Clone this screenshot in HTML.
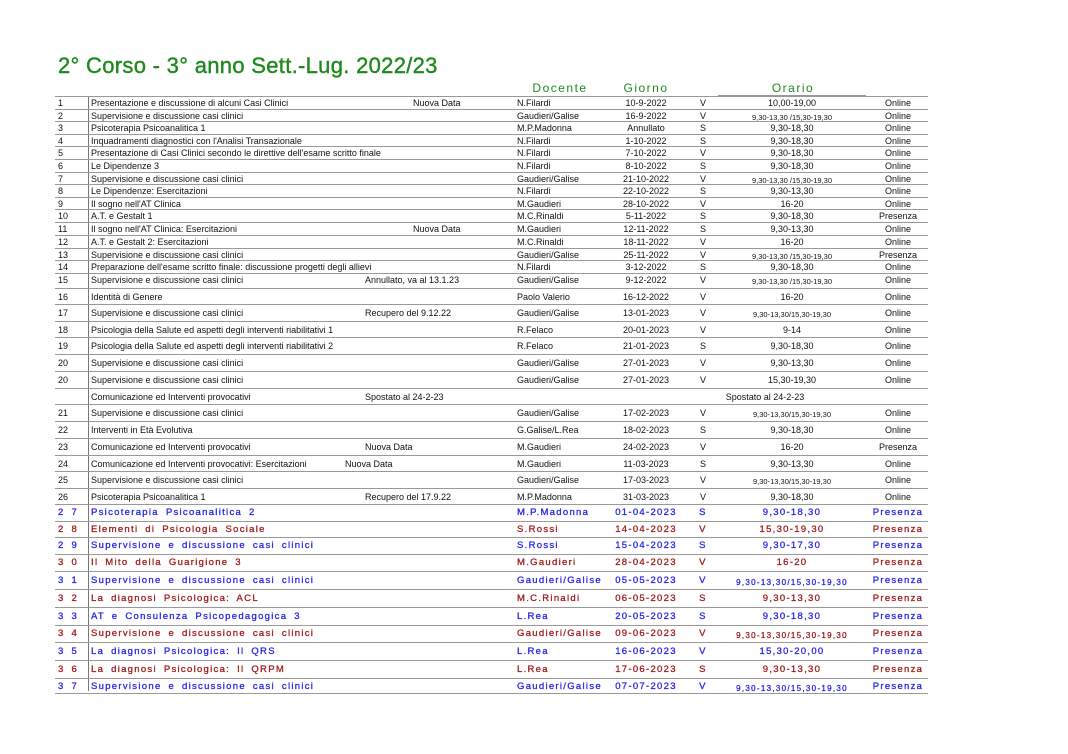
<!DOCTYPE html>
<html><head><meta charset="utf-8"><style>
body{margin:0;width:1068px;height:754px;background:#fff;position:relative;overflow:hidden;font-family:"Liberation Sans",sans-serif;}
.t{position:absolute;white-space:nowrap;font-size:9px;color:#111;line-height:12px;}
.c{transform:translateX(-50%);}
.h{position:absolute;color:#1e8a1e;font-size:12px;letter-spacing:1.5px;}
.ln{position:absolute;height:1px;background:#999;}
.b{letter-spacing:1.3px;word-spacing:3px;font-size:9.5px;-webkit-text-stroke:0.3px;}
</style></head><body>
<div class="h" style="left:58px;top:53px;font-size:22px;letter-spacing:0.3px;-webkit-text-stroke:0.4px;">2° Corso - 3° anno Sett.-Lug. 2022/23</div>
<div class="h c" style="left:560px;top:81px;">Docente</div>
<div class="h c" style="left:646px;top:81px;">Giorno</div>
<div class="h c" style="left:793px;top:81px;">Orario</div>
<div class="ln" style="left:718px;top:95px;width:148px;"></div>
<div class="ln" style="left:55px;top:96px;width:873px;"></div>
<div class="ln" style="left:88px;top:97px;width:1px;height:594px;background:#777;"></div>
<script>
const nums=["1","2","3","4","5","6","7","8","9","10","11","12","13","14","15","16","17","18","19","20","20","","21","22","23","24","25","26","2 7","2 8","2 9","3 0","3 1","3 2","3 3","3 4","3 5","3 6","3 7"];
const ys=[102,115,127,140,152,165,178,190,203,215,228,241,254,266,279,296,312,329,345,362,379,396,412,429,446,463,479,496,512,529,545,562,580,598,616,633,651,669,686];
const titles=["Presentazione e discussione di alcuni Casi Clinici","Supervisione e discussione casi clinici","Psicoterapia Psicoanalitica 1","Inquadramenti diagnostici con l'Analisi Transazionale","Presentazione di Casi Clinici secondo le direttive dell'esame scritto finale","Le Dipendenze 3","Supervisione e discussione casi clinici","Le Dipendenze: Esercitazioni","Il sogno nell'AT Clinica","A.T. e Gestalt 1","Il sogno nell'AT Clinica: Esercitazioni","A.T. e Gestalt 2: Esercitazioni","Supervisione e discussione casi clinici","Preparazione dell'esame scritto finale: discussione progetti degli allievi","Supervisione e discussione casi clinici","Identità di Genere","Supervisione e discussione casi clinici","Psicologia della Salute ed aspetti degli interventi riabilitativi 1","Psicologia della Salute ed aspetti degli interventi riabilitativi 2","Supervisione e discussione casi clinici","Supervisione e discussione casi clinici","Comunicazione ed Interventi provocativi","Supervisione e discussione casi clinici","Interventi in Età Evolutiva","Comunicazione ed Interventi provocativi","Comunicazione ed Interventi provocativi: Esercitazioni","Supervisione e discussione casi clinici","Psicoterapia Psicoanalitica 1","Psicoterapia  Psicoanalitica  2","Elementi  di  Psicologia  Sociale","Supervisione  e  discussione  casi  clinici","Il  Mito  della  Guarigione  3","Supervisione  e  discussione  casi  clinici","La  diagnosi  Psicologica:  ACL","AT  e  Consulenza  Psicopedagogica  3","Supervisione  e  discussione  casi  clinici","La  diagnosi  Psicologica:  Il  QRS","La  diagnosi  Psicologica:  Il  QRPM","Supervisione  e  discussione  casi  clinici"];
const notes=["Nuova Data","","","","","","","","","","Nuova Data","","","","Annullato, va al 13.1.23","","Recupero del 9.12.22","","","","","Spostato al 24-2-23","","","Nuova Data","Nuova Data","","Recupero del 17.9.22","","","","","","","","","","",""];
const noteX=[413,0,0,0,0,0,0,0,0,0,413,0,0,0,365,0,365,0,0,0,0,365,0,0,365,345,0,365,0,0,0,0,0,0,0,0,0,0,0];
const docenti=["N.Filardi","Gaudieri/Galise","M.P.Madonna","N.Filardi","N.Filardi","N.Filardi","Gaudieri/Galise","N.Filardi","M.Gaudieri","M.C.Rinaldi","M.Gaudieri","M.C.Rinaldi","Gaudieri/Galise","N.Filardi","Gaudieri/Galise","Paolo Valerio","Gaudieri/Galise","R.Felaco","R.Felaco","Gaudieri/Galise","Gaudieri/Galise","","Gaudieri/Galise","G.Galise/L.Rea","M.Gaudieri","M.Gaudieri","Gaudieri/Galise","M.P.Madonna","M.P.Madonna","S.Rossi","S.Rossi","M.Gaudieri","Gaudieri/Galise","M.C.Rinaldi","L.Rea","Gaudieri/Galise","L.Rea","L.Rea","Gaudieri/Galise"];
const giorni=["10-9-2022","16-9-2022","Annullato","1-10-2022","7-10-2022","8-10-2022","21-10-2022","22-10-2022","28-10-2022","5-11-2022","12-11-2022","18-11-2022","25-11-2022","3-12-2022","9-12-2022","16-12-2022","13-01-2023","20-01-2023","21-01-2023","27-01-2023","27-01-2023","","17-02-2023","18-02-2023","24-02-2023","11-03-2023","17-03-2023","31-03-2023","01-04-2023","14-04-2023","15-04-2023","28-04-2023","05-05-2023","06-05-2023","20-05-2023","09-06-2023","16-06-2023","17-06-2023","07-07-2023"];
const days=["V","V","S","S","V","S","V","S","V","S","S","V","V","S","V","V","V","V","S","V","V","","V","S","V","S","V","V","S","V","S","V","V","S","S","V","V","S","V"];
const orari=["10,00-19,00","9,30-13,30 /15,30-19,30","9,30-18,30","9,30-18,30","9,30-18,30","9,30-18,30","9,30-13,30 /15,30-19,30","9,30-13,30","16-20","9,30-18,30","9,30-13,30","16-20","9,30-13,30 /15,30-19,30","9,30-18,30","9,30-13,30 /15,30-19,30","16-20","9,30-13,30/15,30-19,30","9-14","9,30-18,30","9,30-13,30","15,30-19,30","Spostato al 24-2-23","9,30-13,30/15,30-19,30","9,30-18,30","16-20","9,30-13,30","9,30-13,30/15,30-19,30","9,30-18,30","9,30-18,30","15,30-19,30","9,30-17,30","16-20","9,30-13,30/15,30-19,30","9,30-13,30","9,30-18,30","9,30-13,30/15,30-19,30","15,30-20,00","9,30-13,30","9,30-13,30/15,30-19,30"];
const modi=["Online","Online","Online","Online","Online","Online","Online","Online","Online","Presenza","Online","Online","Presenza","Online","Online","Online","Online","Online","Online","Online","Online","","Online","Online","Presenza","Online","Online","Online","Presenza","Presenza","Presenza","Presenza","Presenza","Presenza","Presenza","Presenza","Presenza","Presenza","Presenza"];
function add(txt,x,y,cls,color,name,fs){
  if(!txt)return;
  const d=document.createElement('div');
  
  
  d.className='t '+cls;d.textContent=txt;
  d.style.left=x+'px';d.style.top=(y-5)+'px';
  if(color)d.style.color=color;
  if(fs)d.style.fontSize=fs+'px';
  document.body.appendChild(d);
}
for(let i=0;i<ys.length;i++){
  const y=ys[i];const big=i>=28;
  const col=big?(i%2===0?'#2828e6':'#a01e1e'):'';
  const cls=big?'b':'';
  add(nums[i],58,y,cls,col,'row-number');
  add(titles[i],91,y,cls,col,'session-title');
  add(notes[i],noteX[i],y,'','','session-note');
  add(docenti[i],517,y,cls,col,'docente');
  add(giorni[i],646,y,cls+' c',col,'giorno');
  add(days[i],703,y,cls+' c',col,'weekday');
  const longO=orari[i].length>14&&i!==21;
  add(orari[i],i===21?765:792,y+(longO?2:0),cls+' c',col,'orario',longO?(big?8:7.5):null);
  add(modi[i],898,y,cls+' c',col,'modalita');
  const next=i<ys.length-1?ys[i+1]:y+14;
  const ly=Math.round((y+next)/2);
  const l=document.createElement('div');
  
  
  l.className='ln';l.style.left='55px';l.style.width='873px';l.style.top=(i===ys.length-1?y+7:ly)+'px';
  document.body.appendChild(l);
}
</script>
</body></html>
